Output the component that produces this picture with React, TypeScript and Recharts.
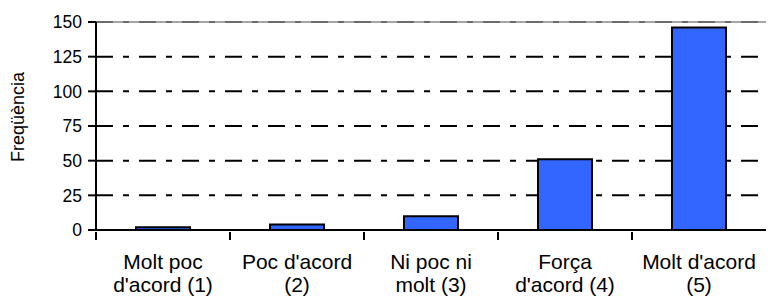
import React from "react";
import { BarChart, Bar, XAxis, YAxis, CartesianGrid } from "recharts";

const categories = [
  ["Molt poc", "d'acord (1)"],
  ["Poc d'acord", "(2)"],
  ["Ni poc ni", "molt (3)"],
  ["Força", "d'acord (4)"],
  ["Molt d'acord", "(5)"],
];
const frequencies = [2, 4, 10, 51, 146];
const yTicks = [0, 25, 50, 75, 100, 125, 150];

const data = categories.map((lines, i) => ({
  name: lines.join("\n"),
  value: frequencies[i],
}));

const FONT = "'Liberation Sans', Arial, sans-serif";

function GridLine(props: any) {
  const { x1, x2, y1, y2, index } = props;
  if (y1 >= 229) return <g key={`g-${index}`} />;
  if (y1 < 30) {
    return (
      <g key={`g-${index}`}>
        <line x1={x1} x2={x2} y1={y1} y2={y2} stroke="#a6a6a6" strokeWidth={2} />
        <line x1={x1} x2={x2} y1={y1} y2={y2} stroke="#6b6b6b" strokeWidth={2} strokeDasharray="17 10 6 10" />
      </g>
    );
  }
  return (
    <line key={`g-${index}`} x1={x1} x2={x2} y1={y1} y2={y2} stroke="#000" strokeWidth={2} strokeDasharray="17 10 6 10" />
  );
}

function CategoryTick(props: any) {
  const { x, y, payload } = props;
  const half = payload.offset ?? 67;
  const lines = String(payload.value).split("\n");
  return (
    <g>
      <line x1={x - half} x2={x - half} y1={y - 8} y2={y} stroke="#000" strokeWidth={2} />
      {lines.map((t, i) => (
        <text key={i} x={x} y={269 + i * 23} textAnchor="middle" fontFamily={FONT} fontSize={21} fill="#000">
          {t}
        </text>
      ))}
    </g>
  );
}

function YLabel() {
  return (
    <text transform="translate(24,117) rotate(-90)" textAnchor="middle" fontFamily={FONT} fontSize={18} fill="#000">
      Freqüència
    </text>
  );
}

export default function App() {
  return (
    <div style={{ position: "absolute", left: 0, top: 0, width: 768, height: 297, background: "#fff" }}>
      <BarChart width={768} height={297} data={data} margin={{ top: 22, right: 2, left: 0, bottom: 0 }}>
        <CartesianGrid vertical={false} horizontal={GridLine} />
        <XAxis
          dataKey="name"
          height={67}
          axisLine={{ stroke: "#000", strokeWidth: 2 }}
          tickLine={false}
          tick={<CategoryTick />}
          interval={0}
          tickSize={8}
        />
        <YAxis
          width={96}
          domain={[0, 150]}
          ticks={yTicks}
          interval={0}
          tickSize={8}
          tickMargin={6}
          axisLine={{ stroke: "#000", strokeWidth: 2 }}
          tickLine={{ stroke: "#000", strokeWidth: 2 }}
          tick={{ fill: "#000", fontSize: 17.5, fontFamily: FONT }}
          label={<YLabel />}
        />
        <Bar dataKey="value" fill="#3366ff" stroke="#000" strokeWidth={2} barSize={54} isAnimationActive={false} />
      </BarChart>
    </div>
  );
}
